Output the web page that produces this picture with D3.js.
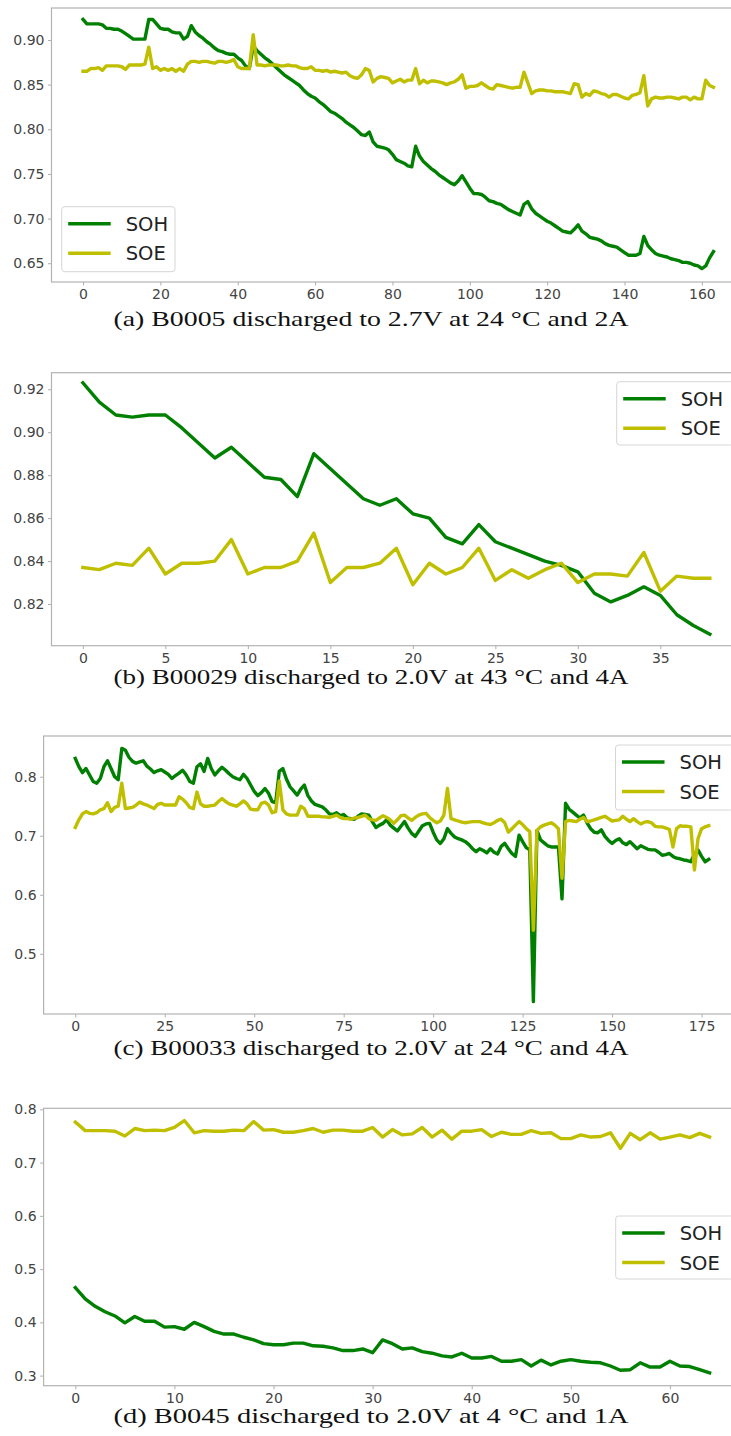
<!DOCTYPE html>
<html><head><meta charset="utf-8">
<script src="https://cdn.jsdelivr.net/npm/d3@7"></script>
<style>
html,body{margin:0;padding:0;background:#fff;}
svg{display:block;}
</style></head>
<body>
<svg id="chart" width="731" height="1436"></svg>
<script>
// ---------------- DATA ----------------
const seriesNames = ["SOH", "SOE"];

// (a) B0005
const sohA = [0.923,0.918,0.918,0.918,0.918,0.917,0.913,0.913,0.912,0.912,0.910,0.907,0.904,0.901,0.901,0.901,0.901,0.923,0.923,0.918,
0.913,0.912,0.912,0.909,0.908,0.908,0.901,0.904,0.916,0.909,0.905,0.902,0.898,0.895,0.891,0.888,0.887,0.885,0.884,0.884,
0.880,0.877,0.871,0.868,0.893,0.888,0.884,0.880,0.877,0.873,0.869,0.865,0.861,0.858,0.855,0.852,0.849,0.844,0.840,0.837,
0.835,0.831,0.828,0.824,0.820,0.818,0.815,0.812,0.808,0.805,0.802,0.798,0.794,0.793,0.797,0.786,0.781,0.780,0.779,0.777,
0.772,0.766,0.764,0.762,0.759,0.758,0.781,0.770,0.764,0.760,0.756,0.753,0.749,0.746,0.743,0.740,0.738,0.742,0.748,0.741,
0.734,0.728,0.728,0.727,0.724,0.720,0.719,0.717,0.716,0.713,0.710,0.708,0.706,0.704,0.716,0.719,0.711,0.706,0.703,0.700,
0.697,0.695,0.692,0.689,0.686,0.685,0.684,0.688,0.693,0.686,0.683,0.679,0.678,0.677,0.675,0.672,0.670,0.669,0.668,0.665,
0.662,0.659,0.659,0.659,0.661,0.680,0.670,0.665,0.661,0.659,0.658,0.657,0.655,0.654,0.653,0.651,0.651,0.650,0.648,0.647,
0.644,0.647,0.656,0.663];
const soeA = [0.865,0.865,0.868,0.868,0.869,0.866,0.871,0.871,0.871,0.871,0.870,0.867,0.872,0.872,0.872,0.872,0.873,0.892,0.868,0.870,
0.866,0.868,0.866,0.868,0.865,0.868,0.865,0.873,0.876,0.876,0.875,0.876,0.876,0.875,0.874,0.876,0.876,0.875,0.876,0.878,
0.870,0.868,0.868,0.868,0.906,0.872,0.872,0.871,0.872,0.872,0.872,0.871,0.871,0.872,0.871,0.871,0.869,0.868,0.868,0.870,
0.866,0.866,0.865,0.866,0.864,0.865,0.864,0.863,0.864,0.860,0.858,0.857,0.861,0.868,0.866,0.853,0.857,0.859,0.858,0.857,
0.852,0.854,0.856,0.853,0.855,0.855,0.868,0.851,0.855,0.852,0.854,0.854,0.853,0.852,0.850,0.852,0.853,0.856,0.861,0.846,
0.848,0.848,0.849,0.852,0.849,0.846,0.845,0.850,0.849,0.848,0.847,0.846,0.847,0.847,0.864,0.852,0.840,0.843,0.844,0.844,
0.843,0.843,0.842,0.842,0.842,0.841,0.840,0.851,0.850,0.836,0.840,0.838,0.843,0.842,0.840,0.839,0.836,0.839,0.839,0.837,
0.835,0.834,0.838,0.839,0.841,0.860,0.826,0.834,0.836,0.835,0.835,0.836,0.836,0.835,0.834,0.836,0.836,0.833,0.836,0.834,
0.834,0.855,0.849,0.847];
const xTicksA = [0,20,40,60,80,100,120,140,160];
const yTicksA = [0.65,0.70,0.75,0.80,0.85,0.90];

// (b) B00029
const sohB = [0.923,0.914,0.908,0.907,0.908,0.908,0.902,0.895,0.888,0.893,0.886,0.879,0.878,0.870,0.890,0.883,0.876,0.869,0.866,0.869,
0.862,0.860,0.851,0.848,0.857,0.849,0.846,0.843,0.840,0.838,0.835,0.825,0.821,0.824,0.828,0.824,0.815,0.810,0.806];
const soeB = [0.837,0.836,0.839,0.838,0.846,0.834,0.839,0.839,0.840,0.850,0.834,0.837,0.837,0.840,0.853,0.830,0.837,0.837,0.839,0.846,
0.829,0.839,0.834,0.837,0.846,0.831,0.836,0.832,0.836,0.839,0.830,0.834,0.834,0.833,0.844,0.826,0.833,0.832,0.832];
const xTicksB = [0,5,10,15,20,25,30,35];
const yTicksB = [0.82,0.84,0.86,0.88,0.90,0.92];

// (c) B00033
const sohC = [0.831,0.817,0.807,0.814,0.803,0.792,0.789,0.797,0.817,0.827,0.814,0.800,0.795,0.848,0.845,0.833,0.826,0.823,0.825,0.827,
0.818,0.813,0.807,0.810,0.812,0.808,0.804,0.797,0.802,0.806,0.811,0.803,0.792,0.789,0.817,0.822,0.809,0.831,0.814,0.803,
0.810,0.816,0.811,0.805,0.800,0.797,0.795,0.804,0.797,0.786,0.775,0.768,0.773,0.780,0.772,0.758,0.756,0.809,0.814,0.796,
0.783,0.776,0.769,0.779,0.786,0.768,0.759,0.753,0.751,0.749,0.744,0.737,0.736,0.739,0.734,0.736,0.730,0.729,0.728,0.733,
0.737,0.736,0.735,0.724,0.714,0.718,0.721,0.727,0.718,0.713,0.708,0.716,0.724,0.713,0.704,0.699,0.708,0.717,0.720,0.721,
0.706,0.693,0.687,0.695,0.712,0.704,0.698,0.695,0.693,0.690,0.685,0.678,0.673,0.678,0.675,0.671,0.678,0.672,0.669,0.682,
0.687,0.678,0.670,0.665,0.701,0.690,0.680,0.676,0.419,0.709,0.693,0.688,0.683,0.681,0.681,0.681,0.593,0.755,0.745,0.740,
0.735,0.730,0.735,0.722,0.712,0.706,0.705,0.710,0.699,0.692,0.687,0.692,0.695,0.688,0.685,0.690,0.684,0.678,0.683,0.680,
0.677,0.676,0.676,0.672,0.667,0.668,0.670,0.665,0.662,0.661,0.659,0.658,0.656,0.669,0.676,0.665,0.656,0.660];
const soeC = [0.714,0.727,0.737,0.741,0.738,0.737,0.739,0.744,0.746,0.756,0.741,0.748,0.750,0.789,0.746,0.747,0.748,0.752,0.757,0.754,
0.752,0.749,0.746,0.753,0.755,0.752,0.752,0.752,0.752,0.766,0.762,0.756,0.748,0.746,0.774,0.754,0.750,0.750,0.751,0.752,
0.758,0.763,0.758,0.754,0.752,0.750,0.754,0.759,0.754,0.745,0.744,0.744,0.755,0.757,0.752,0.739,0.741,0.793,0.744,0.737,
0.735,0.735,0.735,0.750,0.746,0.733,0.733,0.733,0.733,0.732,0.732,0.731,0.733,0.735,0.731,0.729,0.729,0.728,0.730,0.731,
0.733,0.735,0.729,0.727,0.726,0.730,0.734,0.731,0.727,0.721,0.727,0.734,0.735,0.730,0.726,0.731,0.735,0.737,0.738,0.731,
0.726,0.722,0.725,0.735,0.780,0.729,0.727,0.725,0.723,0.722,0.723,0.724,0.724,0.724,0.722,0.720,0.719,0.722,0.726,0.728,
0.722,0.706,0.712,0.718,0.724,0.719,0.712,0.707,0.540,0.709,0.715,0.718,0.720,0.722,0.718,0.712,0.628,0.724,0.726,0.725,
0.724,0.728,0.731,0.724,0.725,0.727,0.729,0.731,0.733,0.729,0.725,0.726,0.727,0.733,0.728,0.724,0.729,0.724,0.720,0.723,
0.724,0.722,0.716,0.715,0.715,0.713,0.711,0.681,0.712,0.717,0.716,0.716,0.715,0.642,0.695,0.712,0.715,0.717];
const xTicksC = [0,25,50,75,100,125,150,175];
const yTicksC = [0.5,0.6,0.7,0.8];

// (d) B0045
const sohD = [0.465,0.444,0.430,0.420,0.412,0.399,0.411,0.402,0.402,0.391,0.392,0.387,0.400,0.392,0.383,0.378,0.378,0.372,0.367,0.360,
0.358,0.358,0.361,0.361,0.356,0.355,0.352,0.347,0.347,0.350,0.343,0.367,0.360,0.350,0.352,0.345,0.342,0.337,0.335,0.342,
0.333,0.333,0.336,0.327,0.327,0.330,0.318,0.329,0.320,0.327,0.330,0.327,0.325,0.324,0.318,0.310,0.311,0.324,0.316,0.316,
0.327,0.318,0.317,0.311,0.305];
const soeD = [0.776,0.760,0.760,0.760,0.759,0.750,0.764,0.760,0.761,0.760,0.766,0.779,0.756,0.760,0.759,0.759,0.761,0.760,0.777,0.761,
0.762,0.757,0.757,0.760,0.764,0.757,0.761,0.761,0.759,0.759,0.766,0.748,0.762,0.752,0.754,0.766,0.748,0.761,0.744,0.759,
0.759,0.762,0.749,0.757,0.753,0.753,0.760,0.755,0.756,0.745,0.745,0.752,0.748,0.749,0.756,0.727,0.755,0.743,0.756,0.744,
0.748,0.752,0.747,0.755,0.748];
const xTicksD = [0,10,20,30,40,50,60];
const yTicksD = [0.3,0.4,0.5,0.6,0.7,0.8];

const captions = [
  "(a)  B0005 discharged to 2.7V at 24 °C and 2A",
  "(b)  B00029 discharged to 2.0V at 43 °C and 4A",
  "(c)  B00033 discharged to 2.0V at 24 °C and 4A",
  "(d)  B0045 discharged to 2.0V at 4 °C and 1A"
];

// ---------------- LAYOUT / STYLE ----------------
const colors = {SOH: "#008000", SOE: "#bfbf00"};
const panels = [
  {soh: sohA, soe: soeA, xt: xTicksA, yt: yTicksA, yfmt: ".2f",
   xd: [-8.15, 171.15], xr: [51.5, 745], yd: [0.629, 0.9358], yr: [282, 8],
   leg: {x: 61.7, y: 206.7, w: 113.3, h: 65}, capY: 326},
  {soh: sohB, soe: soeB, xt: xTicksB, yt: yTicksB, yfmt: ".2f",
   xd: [-1.9, 39.9], xr: [51.5, 741.2], yd: [0.8006, 0.9277], yr: [645.7, 372.7],
   leg: {x: 616.7, y: 381.7, w: 117, h: 63.3}, capY: 684},
  {soh: sohC, soe: soeC, xt: xTicksC, yt: yTicksC, yfmt: ".1f",
   xd: [-8.85, 185.85], xr: [43.6, 740.4], yd: [0.398, 0.869], yr: [1014, 736],
   leg: {x: 615.5, y: 745, w: 118, h: 65}, capY: 1055},
  {soh: sohD, soe: soeD, xt: xTicksD, yt: yTicksD, yfmt: ".1f",
   xd: [-3.2, 67.2], xr: [43.6, 741.3], yd: [0.281, 0.802], yr: [1385.7, 1108.3],
   leg: {x: 615.7, y: 1216, w: 118, h: 63}, capY: 1422.5}
];

const svg = d3.select("#chart");
svg.append("rect").attr("width", 731).attr("height", 1436).attr("fill", "#fff");

panels.forEach((p, k) => {
  const x = d3.scaleLinear().domain(p.xd).range(p.xr);
  const y = d3.scaleLinear().domain(p.yd).range(p.yr);
  const g = svg.append("g");

  // axes
  const xa = g.append("g").attr("transform", `translate(0,${p.yr[0]})`)
    .call(d3.axisBottom(x).tickValues(p.xt).tickFormat(d3.format("d")).tickSize(3.5).tickPadding(3.5));
  const ya = g.append("g").attr("transform", `translate(${p.xr[0]},0)`)
    .call(d3.axisLeft(y).tickValues(p.yt).tickFormat(d3.format(p.yfmt)).tickSize(3.5).tickPadding(3.5));
  [xa, ya].forEach(a => {
    a.select(".domain").remove();
    a.selectAll(".tick line").attr("stroke", "#999").attr("stroke-width", 0.8);
    a.selectAll(".tick text").attr("fill", "#444")
      .style("font-family", "'DejaVu Sans', sans-serif").style("font-size", "14px");
  });

  // frame
  g.append("rect")
    .attr("x", p.xr[0]).attr("y", p.yr[1])
    .attr("width", p.xr[1] - p.xr[0]).attr("height", p.yr[0] - p.yr[1])
    .attr("fill", "none").attr("stroke", "#b3b3b3").attr("stroke-width", 1.2);

  // lines
  const line = d3.line().x((d, i) => x(i)).y(d => y(d));
  [["SOH", p.soh], ["SOE", p.soe]].forEach(([name, vals]) => {
    g.append("path").datum(vals)
      .attr("d", line)
      .attr("fill", "none")
      .attr("stroke", colors[name])
      .attr("stroke-width", 3.4)
      .attr("stroke-linejoin", "round")
      .attr("stroke-linecap", "square");
  });

  // legend
  const L = p.leg;
  const lg = g.append("g");
  lg.append("rect").attr("x", L.x).attr("y", L.y).attr("width", L.w).attr("height", L.h)
    .attr("rx", 3).attr("fill", "#fff").attr("fill-opacity", 0.85)
    .attr("stroke", "#d6d6d6").attr("stroke-width", 1);
  seriesNames.forEach((nm, j) => {
    const cy = L.y + 17 + j * 29.5;
    lg.append("line").attr("x1", L.x + 6.5).attr("x2", L.x + 49).attr("y1", cy).attr("y2", cy)
      .attr("stroke", colors[nm]).attr("stroke-width", 3.4);
    lg.append("text").attr("x", L.x + 64).attr("y", cy).attr("dy", "0.36em")
      .attr("fill", "#222")
      .style("font-family", "'DejaVu Sans', sans-serif").style("font-size", "19.5px")
      .text(nm);
  });

  // caption
  svg.append("text").attr("x", 371).attr("y", p.capY)
    .attr("text-anchor", "middle")
    .attr("textLength", 515).attr("lengthAdjust", "spacingAndGlyphs")
    .attr("fill", "#111")
    .style("font-family", "'Liberation Serif', 'Times New Roman', serif")
    .style("font-size", "21px")
    .text(captions[k]);
});
</script>
</body></html>
